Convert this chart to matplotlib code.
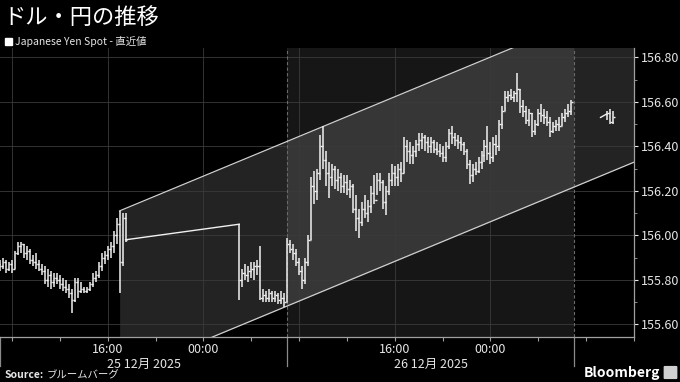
import numpy as np
import matplotlib
matplotlib.use("Agg")
import matplotlib.pyplot as plt
import matplotlib.transforms as mtransforms
from matplotlib.patches import FancyBboxPatch, Rectangle

plt.rcParams['font.family'] = ['Noto Sans CJK JP', 'DejaVu Sans']

# ---------- data (hours relative to 00:00 label, 15-min OHLC bars) ----------
SEG1_START = -17.0
SEG1_HIGH = [155.89, 155.90, 155.89, 155.88, 155.89, 155.93, 155.97, 155.97, 155.96, 155.95,
             155.94, 155.91, 155.92, 155.89, 155.87, 155.86, 155.85, 155.84, 155.83, 155.83,
             155.82, 155.81, 155.80, 155.78, 155.76, 155.81, 155.81, 155.79, 155.77, 155.77,
             155.79, 155.83, 155.84, 155.88, 155.92, 155.93, 155.95, 155.97, 156.02, 156.08,
             156.11, 156.10, 156.10]
SEG1_LOW = [155.84, 155.85, 155.83, 155.84, 155.83, 155.85, 155.91, 155.92, 155.90, 155.89,
            155.87, 155.86, 155.85, 155.84, 155.82, 155.78, 155.77, 155.76, 155.77, 155.78,
            155.76, 155.75, 155.74, 155.72, 155.65, 155.70, 155.72, 155.74, 155.74, 155.74,
            155.75, 155.77, 155.79, 155.81, 155.84, 155.87, 155.89, 155.90, 155.92, 155.96,
            155.74, 155.86, 155.97]
SEG1_CLOSE = [155.86, 155.88, 155.85, 155.87, 155.85, 155.92, 155.95, 155.96, 155.92, 155.93,
              155.89, 155.88, 155.87, 155.85, 155.84, 155.80, 155.82, 155.79, 155.81, 155.80,
              155.78, 155.77, 155.76, 155.74, 155.71, 155.79, 155.75, 155.76, 155.75, 155.76,
              155.78, 155.81, 155.82, 155.86, 155.90, 155.91, 155.94, 155.95, 156.00, 156.05,
              155.88, 156.08, 155.98]
SEG1_OPEN0 = 155.87

GAP_T = [-6.5, 3.0]
GAP_V = [155.98, 156.05]

SEG2_START = 3.0
SEG2_HIGH = [156.05, 155.85, 155.87, 155.86, 155.88, 155.88, 155.89, 155.95, 155.76, 155.75,
             155.76, 155.75, 155.75, 155.74, 155.75, 155.74, 155.99, 155.98, 155.96, 155.94,
             155.90, 155.86, 155.90, 156.00, 156.26, 156.29, 156.30, 156.45, 156.49, 156.38,
             156.33, 156.32, 156.31, 156.30, 156.28, 156.27, 156.27, 156.25, 156.23, 156.18,
             156.12, 156.15, 156.18, 156.16, 156.22, 156.27, 156.28, 156.28, 156.25, 156.22,
             156.28, 156.32, 156.31, 156.32, 156.33, 156.44, 156.43, 156.42, 156.40, 156.43,
             156.46, 156.46, 156.45, 156.44, 156.44, 156.43, 156.42, 156.41, 156.40, 156.42,
             156.48, 156.49, 156.46, 156.45, 156.44, 156.42, 156.39, 156.34, 156.32, 156.33,
             156.35, 156.38, 156.43, 156.49, 156.42, 156.44, 156.45, 156.52, 156.58, 156.65,
             156.65, 156.66, 156.65, 156.73, 156.66, 156.61, 156.58, 156.57, 156.55, 156.52,
             156.57, 156.59, 156.57, 156.56, 156.53, 156.51, 156.52, 156.53, 156.55, 156.57,
             156.59, 156.61]
SEG2_LOW = [155.71, 155.77, 155.80, 155.79, 155.81, 155.80, 155.82, 155.71, 155.70, 155.70,
            155.70, 155.70, 155.70, 155.69, 155.69, 155.68, 155.70, 155.92, 155.89, 155.86,
            155.82, 155.76, 155.78, 155.86, 155.98, 156.14, 156.16, 156.25, 156.30, 156.22,
            156.17, 156.22, 156.21, 156.20, 156.19, 156.19, 156.18, 156.17, 156.10, 156.02,
            155.99, 156.04, 156.08, 156.06, 156.10, 156.14, 156.18, 156.20, 156.12, 156.09,
            156.18, 156.22, 156.22, 156.22, 156.24, 156.28, 156.33, 156.32, 156.32, 156.35,
            156.38, 156.39, 156.38, 156.37, 156.37, 156.37, 156.36, 156.35, 156.33, 156.33,
            156.39, 156.41, 156.40, 156.39, 156.38, 156.36, 156.30, 156.23, 156.24, 156.27,
            156.28, 156.30, 156.33, 156.34, 156.32, 156.33, 156.36, 156.38, 156.48, 156.56,
            156.60, 156.61, 156.60, 156.60, 156.55, 156.53, 156.50, 156.49, 156.44, 156.45,
            156.49, 156.51, 156.50, 156.49, 156.44, 156.46, 156.47, 156.47, 156.49, 156.51,
            156.53, 156.54]
SEG2_CLOSE = [155.80, 155.83, 155.82, 155.84, 155.85, 155.86, 155.86, 155.72, 155.73, 155.72,
              155.74, 155.72, 155.73, 155.71, 155.72, 155.70, 155.96, 155.94, 155.92, 155.88,
              155.84, 155.80, 155.88, 155.98, 156.22, 156.20, 156.28, 156.40, 156.34, 156.28,
              156.26, 156.30, 156.25, 156.26, 156.22, 156.24, 156.21, 156.22, 156.12, 156.08,
              156.06, 156.12, 156.10, 156.13, 156.19, 156.16, 156.25, 156.24, 156.15, 156.20,
              156.25, 156.28, 156.26, 156.30, 156.28, 156.40, 156.38, 156.36, 156.38, 156.41,
              156.43, 156.44, 156.42, 156.40, 156.42, 156.39, 156.38, 156.37, 156.35, 156.40,
              156.46, 156.44, 156.43, 156.42, 156.41, 156.38, 156.32, 156.27, 156.30, 156.29,
              156.33, 156.36, 156.40, 156.37, 156.35, 156.41, 156.40, 156.50, 156.56, 156.62,
              156.63, 156.62, 156.64, 156.66, 156.58, 156.56, 156.52, 156.55, 156.47, 156.50,
              156.55, 156.54, 156.53, 156.51, 156.47, 156.49, 156.50, 156.49, 156.53, 156.55,
              156.56, 156.60]
SEG2_OPEN0 = 156.05

GAP2_T = [33.2, 33.7]
GAP2_V = [156.53, 156.545]

SEG3_START = 33.75
SEG3_HIGH = [156.56, 156.57, 156.56]
SEG3_LOW = [156.52, 156.50, 156.50]
SEG3_CLOSE = [156.55, 156.51, 156.53]
SEG3_OPEN0 = 156.545

# trend channel
CH_START = -7.0
CH_UPPER0 = 156.11
CH_LOWER0 = 155.37
CH_SLOPE = 0.0223

# axes
X_MIN, X_MAX = -17.0, 36.0
Y_MIN, Y_MAX = 155.543, 156.842
SESSION = (7.0, 31.0)
DAY_BREAKS = [-17.0, 7.0, 31.0]
X_TICKS = [-16, -12, -8, -4, 0, 4, 8, 12, 16, 20, 24, 28, 32, 36]
X_LABELS = ["", "", "16:00", "", "00:00", "", "", "", "16:00", "", "00:00", "", "", ""]
X_GRID = [-16, -8, 0, 8, 16, 24]
DATE_POS = [-5.0, 19.0]
DATE_LABELS = ["25 12月 2025", "26 12月 2025"]
Y_TICKS = [155.6, 155.8, 156.0, 156.2, 156.4, 156.6, 156.8]

BAR = "#f0f0f0"
TXT = "#e6e6e6"

fig = plt.figure(figsize=(6.8, 3.82), dpi=100, facecolor="black")
ax = fig.add_axes([0, 0.1178, 0.9324, 0.7565], facecolor="black")
ax.set_xlim(X_MIN, X_MAX)
ax.set_ylim(Y_MIN, Y_MAX)

# shading
ax.axvspan(*SESSION, color="#161616", lw=0, zorder=0)
cx = np.array([CH_START, X_MAX])
up = CH_UPPER0 + CH_SLOPE * (cx - CH_START)
lo = CH_LOWER0 + CH_SLOPE * (cx - CH_START)
ax.fill_between(cx, lo, up, color="white", alpha=0.14, lw=0, zorder=1)
ax.plot(cx, up, color="#cfcfcf", lw=0.9, zorder=2)
ax.plot(cx, lo, color="#cfcfcf", lw=0.9, zorder=2)

# grid
for y in Y_TICKS:
    ax.axhline(y, color="#3a3a3a", lw=0.6, zorder=1.5)
for x in X_GRID:
    ax.axvline(x, color="#3a3a3a", lw=0.6, zorder=1.5)
for x in SESSION:
    ax.axvline(x, color="#6a6a6a", lw=0.8, ls=(0, (3, 2)), zorder=1.6)

# day separators below the axis
trans = mtransforms.blended_transform_factory(ax.transData, ax.transAxes)
for x in DAY_BREAKS:
    ax.plot([x, x], [0, -0.1], color="#8a8a8a", lw=0.9, transform=trans, clip_on=False)
for x, lab in zip(DATE_POS, DATE_LABELS):
    ax.text(x, -0.095, lab, transform=trans, ha="center", va="center",
            color=TXT, fontsize=9)


def draw_ohlc(t0, highs, lows, closes, open0):
    x = t0 + 0.25 * np.arange(len(highs))
    opens = [open0] + list(closes[:-1])
    ax.vlines(x, lows, highs, color=BAR, lw=1.1, zorder=4)
    ax.hlines(opens, x - 0.125, x, color=BAR, lw=1.0, zorder=4)
    ax.hlines(closes, x, x + 0.125, color=BAR, lw=1.0, zorder=4)


draw_ohlc(SEG1_START, SEG1_HIGH, SEG1_LOW, SEG1_CLOSE, SEG1_OPEN0)
ax.plot(GAP_T, GAP_V, color=BAR, lw=1.0, zorder=4)
draw_ohlc(SEG2_START, SEG2_HIGH, SEG2_LOW, SEG2_CLOSE, SEG2_OPEN0)
ax.plot(GAP2_T, GAP2_V, color=BAR, lw=1.0, zorder=4)
draw_ohlc(SEG3_START, SEG3_HIGH, SEG3_LOW, SEG3_CLOSE, SEG3_OPEN0)

# axes styling
for s in ["left", "top"]:
    ax.spines[s].set_visible(False)
for s in ["right", "bottom"]:
    ax.spines[s].set_color("#a0a0a0")
    ax.spines[s].set_linewidth(0.9)
ax.yaxis.tick_right()
ax.set_yticks(Y_TICKS)
ax.set_yticklabels([f"{v:.2f}" for v in Y_TICKS])
ax.set_yticks(np.arange(155.6, 156.85, 0.1), minor=True)
ax.tick_params(axis="y", which="major", colors=TXT, labelsize=9, length=3, pad=2)
ax.tick_params(axis="y", which="minor", colors="#a0a0a0", length=2)
ax.set_xticks(X_TICKS)
ax.set_xticklabels(X_LABELS)
ax.tick_params(axis="x", colors="#a0a0a0", labelcolor=TXT, labelsize=9, length=3, pad=1.5)

# header / footer
fig.text(3 / 680, 1 - 17 / 382, "ドル・円の推移", color="white", fontsize=16,
         ha="left", va="center")
fig.patches.append(Rectangle((5 / 680, 1 - 45 / 382), 7 / 680, 7 / 382,
                             transform=fig.transFigure, color="white"))
fig.text(15 / 680, 1 - 41 / 382, "Japanese Yen Spot - 直近値", color=TXT,
         fontsize=7.5, ha="left", va="center")
fig.text(5 / 680, 1 - 375 / 382, "Source:", color=TXT, fontsize=7.5,
         fontweight="bold", ha="left", va="center")
fig.text(47 / 680, 1 - 375 / 382, "ブルームバーグ", color=TXT, fontsize=7.5,
         ha="left", va="center")
fig.text(660 / 680, 1 - 373 / 382, "Bloomberg", color="white", fontsize=10,
         fontweight="bold", ha="right", va="center")
fig.patches.append(FancyBboxPatch((665 / 680, 1 - 378 / 382), 11 / 680, 11 / 382,
                                  boxstyle="round,pad=0.001", transform=fig.transFigure,
                                  color="#d0d0d0"))

fig.savefig("out.png", dpi=100, facecolor="black")
